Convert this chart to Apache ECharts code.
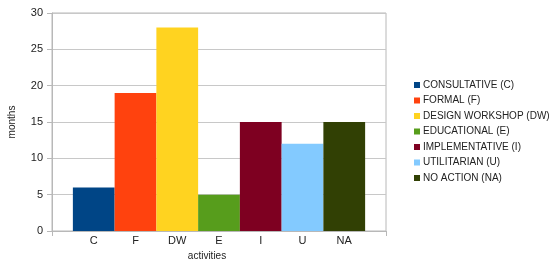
<!DOCTYPE html>
<html>
<head>
<meta charset="utf-8">
<script src="https://cdn.jsdelivr.net/npm/echarts@6/dist/echarts.min.js"></script>
<style>
  html, body { margin: 0; padding: 0; background: #fff; }
  #chart { width: 550px; height: 264px; }
</style>
</head>
<body>
<div id="chart"></div>
<script>
// x-axis slots, with an empty one at each end so bars sit half a bar in
const categories = ["", "C", "F", "DW", "E", "I", "U", "NA", ""];
const seriesNames = [
  "CONSULTATIVE (C)",
  "FORMAL (F)",
  "DESIGN WORKSHOP (DW)",
  "EDUCATIONAL (E)",
  "IMPLEMENTATIVE (I)",
  "UTILITARIAN (U)",
  "NO ACTION (NA)"
];
const months = [6, 19, 28, 5, 15, 12, 15];
const colors = ["#004586", "#ff420e", "#ffd320", "#579d1c", "#7e0021", "#83caff", "#314004"];

const chart = echarts.init(document.getElementById("chart"));

// one series per activity so each one gets a legend entry
const series = seriesNames.map(function (name, i) {
  const data = categories.map(function () { return "-"; });
  data[i + 1] = months[i];
  return {
    name: name,
    type: "bar",
    stack: "all",
    barWidth: "100%",
    data: data,
    itemStyle: { color: colors[i] },
    animation: false
  };
});

chart.setOption({
  textStyle: { fontFamily: "Liberation Sans, Arial, sans-serif" },
  grid: {
    left: 52,
    right: 164,
    top: 13,
    bottom: 33,
    outerBoundsMode: "none",
    containLabel: false,
    show: true,
    borderColor: "#b8b8b8",
    borderWidth: 1
  },
  legend: {
    orient: "vertical",
    left: 409,
    top: 74,
    itemWidth: 6,
    itemHeight: 6,
    itemGap: 3.5,
    icon: "rect",
    textStyle: { fontSize: 10, color: "#222", lineHeight: 12, padding: [0, 0, 0, -2] },
    data: seriesNames
  },
  xAxis: {
    type: "category",
    data: categories,
    boundaryGap: false,
    name: "activities",
    nameLocation: "middle",
    nameGap: 17,
    nameTextStyle: { fontSize: 10, color: "#222", padding: [0, 24, 0, 0] },
    axisLine: { lineStyle: { color: "#b8b8b8" } },
    axisTick: {
      show: true,
      length: 5,
      lineStyle: { color: "#b8b8b8" },
      interval: function (idx) { return idx === 0 || idx === categories.length - 1; }
    },
    axisLabel: { fontSize: 11, color: "#222", margin: 4, interval: 0 },
    splitLine: { show: false }
  },
  yAxis: {
    type: "value",
    min: 0,
    max: 30,
    interval: 5,
    name: "months",
    nameLocation: "middle",
    nameGap: 35,
    nameTextStyle: { fontSize: 10, color: "#222" },
    axisLine: { show: true, lineStyle: { color: "#b8b8b8" } },
    axisTick: { show: true, length: 5, lineStyle: { color: "#b8b8b8" } },
    axisLabel: { fontSize: 11, color: "#222", margin: 9 },
    splitLine: { lineStyle: { color: "#c8c8c8" } }
  },
  series: series
});
</script>
</body>
</html>
